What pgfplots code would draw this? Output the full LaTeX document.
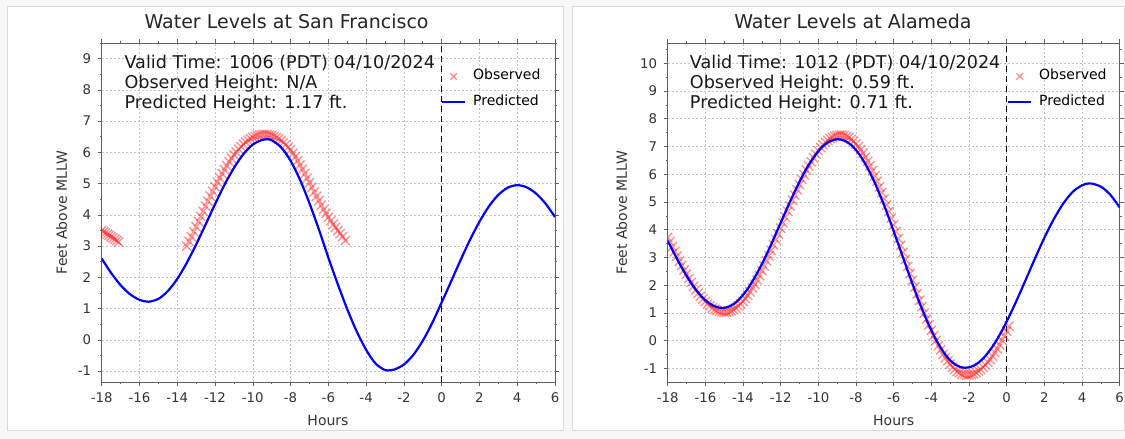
\documentclass[border=0pt]{standalone}
\usepackage{fontspec}
\setmainfont{DejaVu Sans}
\usepackage{pgfplots}
\usepackage{pgfplotstable}
\pgfplotsset{compat=1.18}

\definecolor{obsred}{RGB}{255,40,40}
\definecolor{predblue}{RGB}{0,0,255}
\definecolor{framegray}{RGB}{95,95,95}
\definecolor{gridgray}{RGB}{195,195,195}
\definecolor{panelline}{RGB}{218,218,218}
\definecolor{pagebg}{RGB}{247,247,247}

\newcommand{\titlefont}{\fontsize{19}{22}\selectfont}
\newcommand{\infofont}{\fontsize{17.6}{20}\selectfont}
\newcommand{\tickfont}{\fontsize{13.3}{15}\selectfont}
\newcommand{\labfont}{\fontsize{14}{16}\selectfont}

% San Francisco
\pgfplotstableread{
x y
-18 2.60
-17.5 2.14
-17 1.75
-16.5 1.46
-16 1.28
-15.53 1.22
-15 1.31
-14.5 1.56
-14 1.95
-13.5 2.46
-13 3.05
-12.5 3.69
-12 4.34
-11.5 4.96
-11 5.50
-10.5 5.94
-10 6.25
-9.5 6.40
-9.27 6.42
-9 6.39
-8.5 6.16
-8 5.73
-7.5 5.12
-7 4.37
-6.5 3.53
-6 2.63
-5.5 1.78
-5 0.98
-4.5 0.27
-4 -0.32
-3.5 -0.76
-3 -0.97
-2.83 -0.98
-2.5 -0.95
-2 -0.79
-1.5 -0.48
-1 -0.03
-0.5 0.54
0 1.20
0.5 1.87
1 2.55
1.5 3.20
2 3.78
2.5 4.27
3 4.64
3.5 4.87
4 4.95
4.5 4.88
5 4.68
5.5 4.36
6 3.93
}\sfpred

\pgfplotstableread{
x y
-18 3.50
-17.9 3.46
-17.8 3.42
-17.7 3.38
-17.6 3.34
-17.5 3.30
-17.4 3.26
-17.3 3.22
-17.2 3.18
-17.1 3.13
-13.5 3.00
-13.375 3.15
-13.25 3.30
-13.125 3.46
-13 3.62
-12.875 3.785
-12.75 3.95
-12.625 4.115
-12.5 4.28
-12.375 4.44
-12.25 4.60
-12.125 4.75
-12 4.90
-11.875 5.04
-11.75 5.18
-11.625 5.315
-11.5 5.45
-11.375 5.575
-11.25 5.70
-11.125 5.81
-11 5.92
-10.875 6.01
-10.75 6.10
-10.625 6.18
-10.5 6.26
-10.375 6.325
-10.25 6.39
-10.125 6.435
-10 6.48
-9.875 6.51
-9.75 6.54
-9.625 6.555
-9.5 6.57
-9.375 6.575
-9.25 6.57
-9.125 6.555
-9 6.54
-8.875 6.51
-8.75 6.48
-8.625 6.43
-8.5 6.38
-8.375 6.315
-8.25 6.25
-8.125 6.165
-8 6.08
-7.875 5.97
-7.75 5.86
-7.625 5.73
-7.5 5.60
-7.375 5.46
-7.25 5.32
-7.125 5.175
-7 5.03
-6.875 4.88
-6.75 4.73
-6.625 4.59
-6.5 4.45
-6.375 4.31
-6.25 4.17
-6.125 4.045
-6 3.92
-5.875 3.81
-5.75 3.70
-5.625 3.60
-5.5 3.50
-5.375 3.40
-5.25 3.30
-5.1 3.18
}\sfobs

% Alameda
\pgfplotstableread{
x y
-18 3.60
-17.75 3.27
-17.5 2.94
-17.25 2.63
-17 2.34
-16.75 2.07
-16.5 1.83
-16.25 1.63
-16 1.46
-15.75 1.33
-15.5 1.24
-15.25 1.19
-15.1 1.18
-15 1.18
-14.75 1.23
-14.5 1.32
-14.25 1.46
-14 1.65
-13.75 1.87
-13.5 2.14
-13.25 2.44
-13 2.76
-12.75 3.11
-12.5 3.48
-12.25 3.87
-12 4.25
-11.75 4.64
-11.5 5.02
-11.25 5.38
-11 5.73
-10.75 6.06
-10.5 6.35
-10.25 6.61
-10 6.83
-9.75 7.01
-9.5 7.14
-9.25 7.22
-9 7.26
-8.75 7.24
-8.5 7.17
-8.25 7.05
-8 6.87
-7.75 6.64
-7.5 6.36
-7.25 6.04
-7 5.68
-6.75 5.28
-6.5 4.86
-6.25 4.41
-6 3.94
-5.75 3.47
-5.5 2.99
-5.25 2.51
-5 2.04
-4.75 1.58
-4.5 1.15
-4.25 0.74
-4 0.37
-3.75 0.03
-3.5 -0.26
-3.25 -0.51
-3 -0.71
-2.75 -0.85
-2.5 -0.94
-2.22 -0.98
-2 -0.96
-1.75 -0.90
-1.5 -0.79
-1.25 -0.64
-1 -0.44
-0.75 -0.21
-0.5 0.06
-0.25 0.36
0 0.69
0.5 1.41
1 2.18
1.5 2.96
2 3.71
2.5 4.38
3 4.94
3.5 5.36
4 5.60
4.43 5.67
5 5.55
5.5 5.26
6 4.80
}\alpred

\pgfplotstableread{
x y
-18 3.72
-17.88 3.57
-17.755 3.395
-17.63 3.22
-17.505 3.045
-17.38 2.87
-17.255 2.71
-17.13 2.55
-17.005 2.395
-16.88 2.24
-16.755 2.10
-16.63 1.96
-16.505 1.835
-16.38 1.71
-16.255 1.605
-16.13 1.50
-16.005 1.41
-15.88 1.32
-15.755 1.25
-15.63 1.18
-15.505 1.13
-15.38 1.09
-15.255 1.06
-15.13 1.04
-15.005 1.03
-14.88 1.03
-14.755 1.05
-14.63 1.08
-14.505 1.125
-14.38 1.18
-14.255 1.245
-14.13 1.32
-14.005 1.415
-13.88 1.52
-13.755 1.64
-13.63 1.76
-13.505 1.895
-13.38 2.03
-13.255 2.19
-13.13 2.35
-13.005 2.52
-12.88 2.69
-12.755 2.875
-12.63 3.06
-12.505 3.255
-12.38 3.45
-12.255 3.65
-12.13 3.85
-12.005 4.05
-11.88 4.25
-11.755 4.455
-11.63 4.66
-11.505 4.86
-11.38 5.06
-11.255 5.25
-11.13 5.44
-11.005 5.625
-10.88 5.81
-10.755 5.98
-10.63 6.15
-10.505 6.30
-10.38 6.45
-10.255 6.59
-10.13 6.73
-10.005 6.845
-9.88 6.96
-9.755 7.055
-9.63 7.15
-9.505 7.22
-9.38 7.29
-9.255 7.33
-9.13 7.37
-9.005 7.39
-8.88 7.41
-8.755 7.41
-8.63 7.40
-8.505 7.36
-8.38 7.32
-8.255 7.255
-8.13 7.19
-8.005 7.095
-7.88 7.00
-7.755 6.88
-7.63 6.76
-7.505 6.615
-7.38 6.47
-7.255 6.30
-7.13 6.13
-7.005 5.94
-6.88 5.75
-6.755 5.545
-6.63 5.34
-6.505 5.115
-6.38 4.89
-6.255 4.655
-6.13 4.42
-6.005 4.175
-5.88 3.93
-5.755 3.68
-5.63 3.43
-5.505 3.18
-5.38 2.93
-5.255 2.675
-5.13 2.42
-5.005 2.175
-4.88 1.93
-4.755 1.69
-4.63 1.45
-4.505 1.22
-4.38 0.99
-4.255 0.78
-4.13 0.57
-4.005 0.375
-3.88 0.18
-3.755 0.00
-3.63 -0.18
-3.505 -0.335
-3.38 -0.49
-3.255 -0.615
-3.13 -0.74
-3.005 -0.85
-2.88 -0.96
-2.755 -1.035
-2.63 -1.11
-2.505 -1.155
-2.38 -1.20
-2.255 -1.22
-2.13 -1.24
-2.005 -1.235
-1.88 -1.22
-1.755 -1.19
-1.63 -1.15
-1.505 -1.095
-1.38 -1.04
-1.255 -0.96
-1.13 -0.88
-1.005 -0.78
-0.88 -0.68
-0.755 -0.555
-0.63 -0.43
-0.505 -0.29
-0.38 -0.15
-0.255 0.01
-0.13 0.17
-0.005 0.345
0.12 0.52
}\alobs

\pgfplotsset{
  tide/.style={
    scale only axis,
    height=339pt,
    xmin=-18, xmax=6,
    xtick={-18,-16,...,6},
    ytick distance=1,
    minor x tick num=1,
    minor y tick num=1,
    grid=major,
    major grid style={gridgray, dash pattern=on 2pt off 2pt, line width=0.6pt},
    axis line style={framegray, line width=0.8pt},
    every tick/.style={framegray, line width=0.6pt},
    tick align=outside,
    major tick length=4pt,
    minor tick length=2pt,
    ticklabel style={font=\tickfont, text=black!80},
    xticklabel style={yshift=-3pt},
    yticklabel style={xshift=-3pt},
    /pgf/number format/assume math mode=true,
    clip marker paths=true,
    legend cell align=left,
    legend image code/.code={
      \draw[mark repeat=2, mark phase=2, #1, mark size=4.5pt]
        plot coordinates {(0pt,0pt) (11.6pt,0pt) (23.3pt,0pt)};},
    legend style={draw=none, fill=none, inner sep=0pt, anchor=west,
      font=\labfont, row sep=14pt,
      nodes={inner sep=0pt, text height=9pt, text depth=2.5pt},
      /tikz/column 1/.style={column sep=6.7pt}},
  },
  obs/.style={only marks, mark=x, mark size=6.5pt,
    mark options={line width=1.4pt}, obsred, opacity=0.5},
  pred/.style={predblue, line width=2.2pt, smooth, mark=none},
  nowline/.style={black, line width=1.3pt, dash pattern=on 6pt off 4pt, forget plot},
}

\begin{document}
\begin{tikzpicture}
\useasboundingbox (0,0) rectangle (1125pt,439pt);
\fill[pagebg] (0,0) rectangle (1125pt,439pt);
\filldraw[fill=white, draw=panelline, line width=1pt] (7.5pt,8pt) rectangle (563pt,432pt);
\filldraw[fill=white, draw=panelline, line width=1pt] (572.5pt,8pt) rectangle (1124.5pt,432pt);

\begin{axis}[tide, width=453.3pt, at={(101.7pt,57pt)}, anchor=south west,
    ymin=-1.35, ymax=9.5,
    legend style={at={(0.7479,0.8637)}}]
  \addplot[nowline] coordinates {(0,-1.35) (0,9.5)};
  \addplot[obs] table[x=x, y=y] {\sfobs};
  \addlegendentry{Observed}
  \addplot[pred] table[x=x, y=y] {\sfpred};
  \addlegendentry{Predicted}
\end{axis}

\begin{axis}[tide, width=452pt, at={(667.7pt,57pt)}, anchor=south west,
    ymin=-1.49, ymax=10.73,
    legend style={at={(0.7502,0.8637)}}]
  \addplot[nowline] coordinates {(0,-1.49) (0,10.73)};
  \addplot[obs] table[x=x, y=y] {\alobs};
  \addlegendentry{Observed}
  \addplot[pred] table[x=x, y=y] {\alpred};
  \addlegendentry{Predicted}
\end{axis}

% titles
\node[anchor=base, font=\titlefont, text=black!85] at (286.6pt,410.7pt) {Water Levels at San Francisco};
\node[anchor=base, font=\titlefont, text=black!85] at (853pt,410.7pt) {Water Levels at Alameda};

% info text
\node[anchor=base west, font=\infofont, text=black!90] at (121pt,370.7pt) {Valid Time: 1006 (PDT) 04/10/2024};
\node[anchor=base west, font=\infofont, text=black!90] at (121pt,350.7pt) {Observed Height: N/A};
\node[anchor=base west, font=\infofont, text=black!90] at (121pt,330.7pt) {Predicted Height: 1.17 ft.};
\node[anchor=base west, font=\infofont, text=black!90] at (686.4pt,370.7pt) {Valid Time: 1012 (PDT) 04/10/2024};
\node[anchor=base west, font=\infofont, text=black!90] at (686.4pt,350.7pt) {Observed Height: 0.59 ft.};
\node[anchor=base west, font=\infofont, text=black!90] at (686.4pt,330.7pt) {Predicted Height: 0.71 ft.};

% axis labels
\node[font=\labfont, text=black!80] at (328pt,19pt) {Hours};
\node[font=\labfont, text=black!80] at (893.7pt,19pt) {Hours};
\node[font=\labfont, text=black!80, rotate=90] at (61.7pt,226.5pt) {Feet Above MLLW};
\node[font=\labfont, text=black!80, rotate=90] at (621.7pt,226.5pt) {Feet Above MLLW};
\end{tikzpicture}
\end{document}
